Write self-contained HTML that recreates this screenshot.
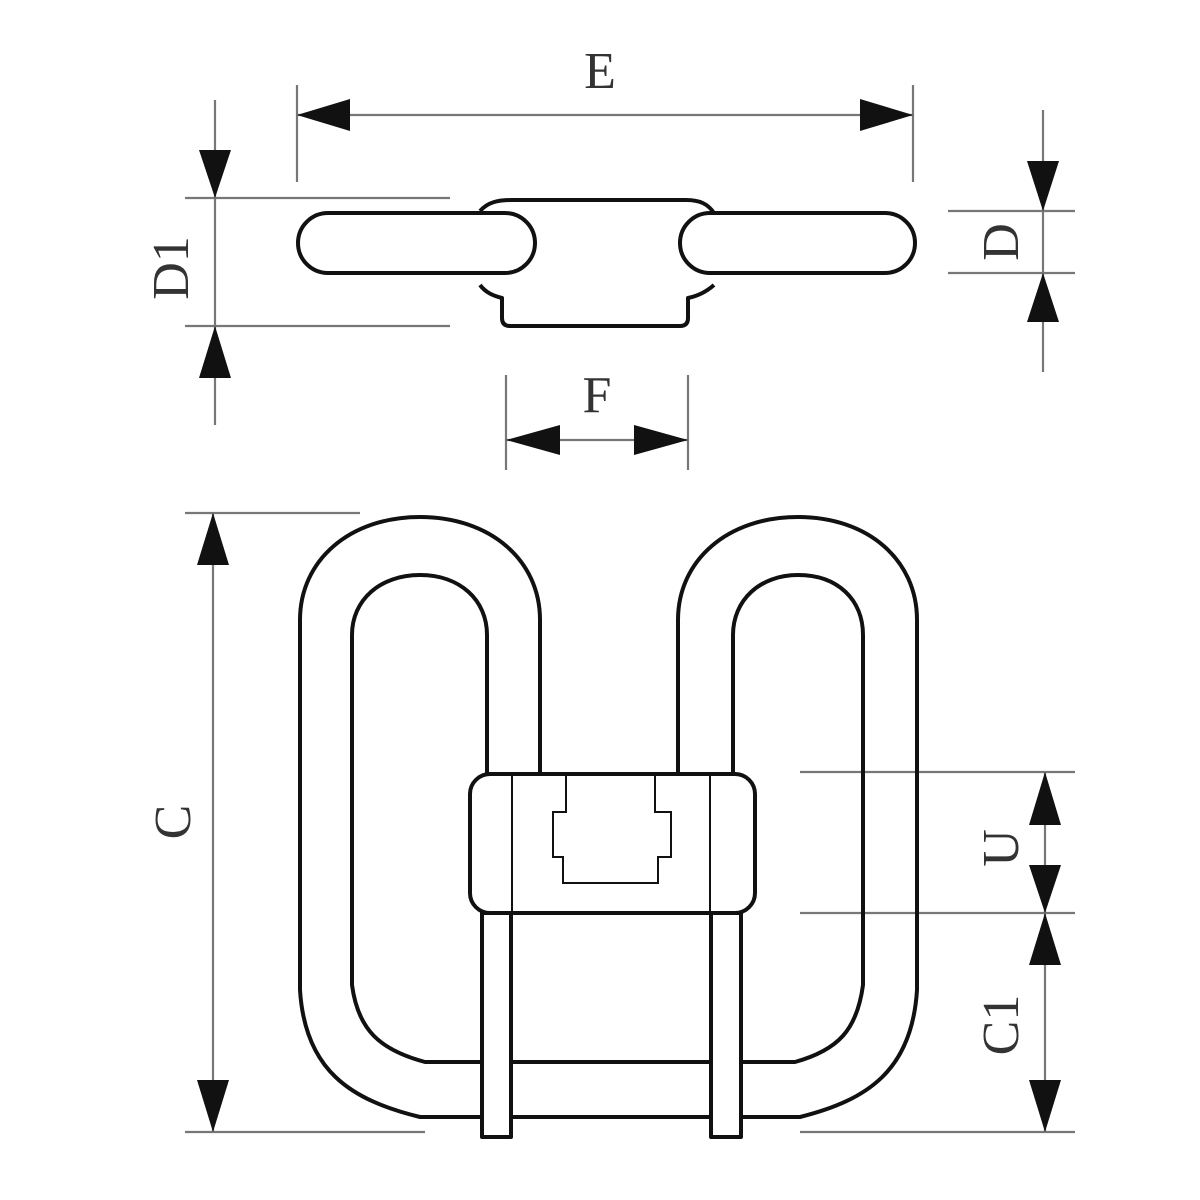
<!DOCTYPE html>
<html><head><meta charset="utf-8"><style>
html,body{margin:0;padding:0;background:#fff;}
svg{display:block;}
text{font-family:"Liberation Serif",serif;font-size:52px;fill:#333;}
</style></head><body>
<svg width="1200" height="1200" viewBox="0 0 1200 1200" xmlns="http://www.w3.org/2000/svg">
<g stroke="#777" stroke-width="2.2" fill="none">
<line x1="297" y1="85" x2="297" y2="182"/><line x1="913" y1="85" x2="913" y2="182"/>
<line x1="297" y1="115" x2="913" y2="115"/>
<line x1="215" y1="100" x2="215" y2="425"/>
<line x1="185" y1="198" x2="450" y2="198"/><line x1="185" y1="326" x2="450" y2="326"/>
<line x1="1043" y1="110" x2="1043" y2="372"/>
<line x1="948" y1="211" x2="1075" y2="211"/><line x1="948" y1="273" x2="1075" y2="273"/>
<line x1="506" y1="375" x2="506" y2="470"/><line x1="688" y1="375" x2="688" y2="470"/>
<line x1="506" y1="440" x2="688" y2="440"/>
<line x1="213" y1="513" x2="213" y2="1132"/>
<line x1="185" y1="513" x2="360" y2="513"/>
<line x1="185" y1="1132" x2="425" y2="1132"/>
<line x1="800" y1="1132" x2="1075" y2="1132"/>
<line x1="1045" y1="772" x2="1045" y2="1132"/>
<line x1="800" y1="772" x2="1075" y2="772"/>
<line x1="800" y1="913" x2="1075" y2="913"/>
</g>
<g fill="#111">
<polygon points="297,115 350,99 350,131"/><polygon points="913,115 860,99 860,131"/>
<polygon points="215,198 199,150 231,150"/><polygon points="215,326 199,378 231,378"/>
<polygon points="1043,211 1027,161 1059,161"/><polygon points="1043,273 1027,322 1059,322"/>
<polygon points="506,440 560,425 560,455"/><polygon points="688,440 634,425 634,455"/>
<polygon points="213,513 197,565 229,565"/><polygon points="213,1132 197,1080 229,1080"/>
<polygon points="1045,772 1029,825 1061,825"/><polygon points="1045,913 1029,865 1061,865"/>
<polygon points="1045,913 1029,965 1061,965"/><polygon points="1045,1132 1029,1080 1061,1080"/>
</g>
<text x="600" y="88" text-anchor="middle">E</text>
<text x="597" y="412" text-anchor="middle">F</text>
<text transform="translate(188,268) rotate(-90)" text-anchor="middle">D1</text>
<text transform="translate(1018,242) rotate(-90)" text-anchor="middle">D</text>
<text transform="translate(190,822) rotate(-90)" text-anchor="middle">C</text>
<text transform="translate(1018,848) rotate(-90)" text-anchor="middle">U</text>
<text transform="translate(1018,1025) rotate(-90)" text-anchor="middle">C1</text>

<g stroke="#111" stroke-width="4" fill="none" stroke-linejoin="round">
<path d="M480,211 C488,202 498,200 512,200 L686,200 C700,200 708,204 714,213"/>
<path d="M480,285 C486,293 494,296 502,298 L502,318 Q502,326 510,326 L680,326 Q688,326 688,318 L688,298 C698,296 706,292 714,285"/>
<rect x="298" y="213" width="237" height="60" rx="30" fill="#fff"/>
<rect x="680" y="213" width="235" height="60" rx="30" fill="#fff"/>
<path d="M540,773 L540,620 C540,560 490,517 420,517 C350,517 300,560 300,620 L300,990 C305,1070 350,1100 420,1117 L482,1117"/>
<path d="M678,773 L678,620 C678,560 728,517 798,517 C868,517 917,560 917,620 L917,990 C912,1070 868,1100 800,1117 L741,1117"/>
<line x1="511" y1="1117" x2="711" y2="1117"/>
<path d="M487,773 L487,635 C487,600 460,575 420,575 C380,575 352,600 352,635 L352,985 C358,1030 380,1050 425,1062 L482,1062"/>
<path d="M733,773 L733,635 C733,600 760,575 798,575 C838,575 863,600 863,635 L863,985 C857,1030 838,1050 795,1062 L741,1062"/>
<line x1="511" y1="1062" x2="711" y2="1062"/>
<rect x="482" y="913" width="29" height="224" fill="#fff"/>
<rect x="711" y="913" width="30" height="224" fill="#fff"/>
<rect x="470" y="774" width="285" height="139" rx="20" fill="#fff"/>
</g>
<g stroke="#111" stroke-width="2" fill="none">
<line x1="512" y1="775" x2="512" y2="913"/><line x1="710" y1="775" x2="710" y2="913"/>
<path d="M566,775 L566,812 L553,812 L553,857 L563,857 L563,883 L658,883 L658,857 L671,857 L671,812 L655,812 L655,775"/>
</g>
</svg>
</body></html>
